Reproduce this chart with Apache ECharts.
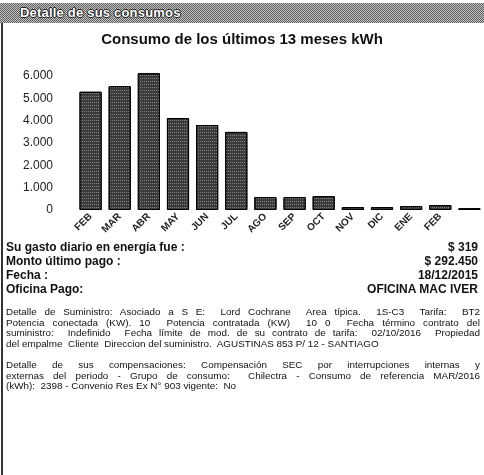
<!DOCTYPE html>
<html>
<head>
<meta charset="utf-8">
<script src="https://cdn.jsdelivr.net/npm/echarts@6/dist/echarts.min.js"></script>
<style>
  body { margin: 0; background: #fff; }
  #page { position: relative; width: 484px; height: 475px; overflow: hidden; background: #fff; font-family: "Liberation Sans", Arial, sans-serif; color: #111; }
  #band { position: absolute; left: 0; top: 3px; width: 484px; height: 20px;
    background: repeating-conic-gradient(#5e5e5e 0 25%, #c4c4c4 0 50%) 0 0 / 2px 2px; }
  #band span { position: absolute; left: 20px; top: 2px; font-size: 13px; font-weight: bold; color: #fff;
    text-shadow: -1px 0 #222, 1px 0 #222, 0 -1px #222, 0 1px #222; letter-spacing: 0.2px; }
  #border { position: absolute; left: 1px; top: 23px; width: 2px; height: 452px; background: #333; }
  #chart { position: absolute; left: 0; top: 0; width: 484px; height: 245px; }
  .row { position: absolute; left: 6px; width: 472px; font-size: 12px; font-weight: bold; }
  .row .r { position: absolute; right: 0; top: 0; }
  .para { position: absolute; left: 6px; width: 474px; font-family: "Liberation Sans Narrow", "Liberation Sans", sans-serif; font-size: 9.9px; line-height: 10.6px; }
  .para div { text-align: justify; text-align-last: justify; white-space: nowrap; }
  .para div.last { text-align-last: left; }
</style>
</head>
<body>
<div id="page">
  <div id="band"><span>Detalle de sus consumos</span></div>
  <div id="border"></div>
  <div id="chart"></div>
  <div class="row" style="top:240px">Su gasto diario en energía fue :<span class="r">$ 319</span></div>
  <div class="row" style="top:254px">Monto último pago :<span class="r">$ 292.450</span></div>
  <div class="row" style="top:268px">Fecha :<span class="r">18/12/2015</span></div>
  <div class="row" style="top:282px">Oficina Pago:<span class="r">OFICINA MAC IVER</span></div>
  <div class="para" style="top:307px">
    <div>Detalle de Suministro: Asociado a S E:&nbsp; Lord Cochrane&nbsp; Area típica.&nbsp; 1S-C3&nbsp; Tarifa:&nbsp; BT2</div>
    <div>Potencia conectada (KW). 10&nbsp; Potencia contratada (KW)&nbsp; 10 0&nbsp; Fecha término contrato del</div>
    <div>suministro:&nbsp; Indefinido&nbsp; Fecha límite de mod. de su contrato de tarifa:&nbsp; 02/10/2016&nbsp; Propiedad</div>
    <div class="last">del empalme&nbsp; Cliente&nbsp; Direccion del suministro.&nbsp; AGUSTINAS 853 P/ 12 - SANTIAGO</div>
  </div>
  <div class="para" style="top:360px">
    <div>Detalle de sus compensaciones: Compensación SEC por interrupciones internas y</div>
    <div>externas del periodo - Grupo de consumo:&nbsp; Chilectra - Consumo de referencia MAR/2016</div>
    <div class="last">(kWh):&nbsp; 2398 - Convenio Res Ex N° 903 vigente:&nbsp; No</div>
  </div>
</div>
<script>
var months = ['FEB', 'MAR', 'ABR', 'MAY', 'JUN', 'JUL', 'AGO', 'SEP', 'OCT', 'NOV', 'DIC', 'ENE', 'FEB', ''];
var consumo = [5300, 5550, 6130, 4120, 3810, 3500, 580, 580, 620, 130, 130, 170, 220, 80];
var yTicks = [0, 1000, 2000, 3000, 4000, 5000, 6000];

function miles(v) {
	return String(v).replace(/\B(?=(\d{3})+(?!\d))/g, '.');
}

var chart = echarts.init(document.getElementById('chart'));
chart.setOption({
	animation: false,
	title: {
		text: 'Consumo de los últimos 13 meses kWh',
		left: 'center',
		top: 27,
		textStyle: { fontFamily: 'Liberation Sans', fontSize: 15, fontWeight: 'bold', color: '#111' }
	},
	grid: { left: 76, right: 0, top: 65, bottom: 35 },
	xAxis: {
		type: 'category',
		data: months,
		axisLine: { show: false },
		axisTick: { show: false },
		axisLabel: { rotate: 45, margin: 5, interval: 0, fontSize: 10, fontWeight: 'bold', color: '#222', fontFamily: 'Liberation Sans' }
	},
	yAxis: {
		type: 'value',
		min: 0,
		max: 6500,
		interval: 1000,
		splitLine: { show: false },
		axisLine: { show: false },
		axisTick: { show: false },
		axisLabel: {
			margin: 23,
			fontSize: 12,
			color: '#222',
			fontFamily: 'Liberation Sans',
			showMaxLabel: false,
			formatter: function(v) {
				return yTicks.indexOf(v) >= 0 ? miles(v) : '';
			}
		}
	},
	series: [{
		type: 'bar',
		data: consumo,
		barCategoryGap: '24%',
		itemStyle: {
			color: '#3c3c3c',
			borderColor: '#000',
			borderWidth: 1,
			decal: {
				symbol: 'rect',
				symbolSize: 1,
				dashArrayX: [1, 1],
				dashArrayY: [1, 2],
				color: 'rgba(255,255,255,0.35)'
			}
		}
	}]
});
</script>
</body>
</html>
